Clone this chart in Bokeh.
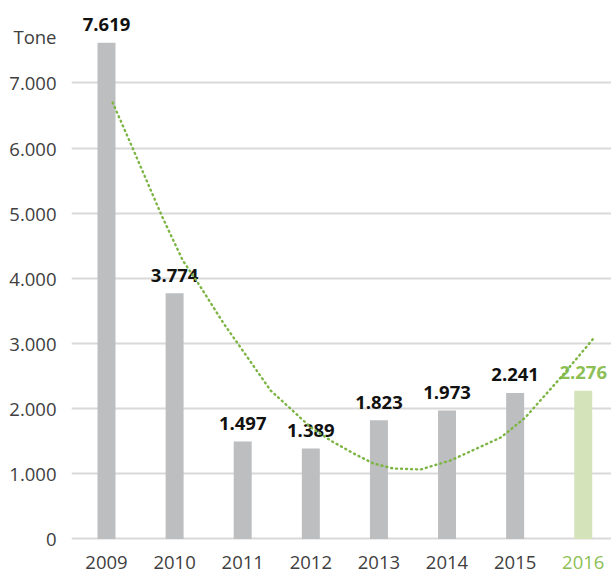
from bokeh.plotting import figure
from bokeh.models import ColumnDataSource, FixedTicker, Range1d
from bokeh.core.properties import value
from bokeh.embed import file_html
from bokeh.resources import INLINE

# ---- data ----
years = [2009, 2010, 2011, 2012, 2013, 2014, 2015, 2016]
tonnes = [7619, 3774, 1497, 1389, 1823, 1973, 2241, 2276]
value_labels = ["7.619", "3.774", "1.497", "1.389", "1.823", "1.973", "2.241", "2.276"]
year_labels = ["2009", "2010", "2011", "2012", "2013", "2014", "2015", "2016"]
highlight_year = 2016

# trend line
trend_x = [2009.09, 2009.38, 2009.81, 2010.12, 2010.34, 2010.72, 2011.00, 2011.41,
           2011.70, 2012.00, 2012.29, 2012.63, 2012.92, 2013.21, 2013.61, 2014.05,
           2014.79, 2015.15, 2015.67, 2016.15]
trend_y = [6700, 6009, 4965, 4275, 3937, 3308, 2893, 2279,
           2003, 1712, 1512, 1312, 1159, 1082, 1067, 1205,
           1558, 1865, 2479, 3077]

y_ticks = [0, 1000, 2000, 3000, 4000, 5000, 6000, 7000]
y_tick_labels = ["0", "1.000", "2.000", "3.000", "4.000", "5.000", "6.000", "7.000"]
unit_label = "Tone"
unit_pos = 7713

# ---- styles ----
GRAY_BAR = "#bdbec0"
GREEN_BAR = "#d5e3bb"
GREEN_TEXT = "#8dbf55"
TREND = "#7db544"
TEXT = "#404040"
FONT = "Open Sans"

bar_colors = [GREEN_BAR if y == highlight_year else GRAY_BAR for y in years]
lbl_colors = [GREEN_TEXT if y == highlight_year else "#111111" for y in years]
yr_colors = [GREEN_TEXT if y == highlight_year else TEXT for y in years]

src = ColumnDataSource(dict(x=years, v=tonnes, lbl=value_labels, yl=year_labels,
                            bc=bar_colors, lc=lbl_colors, yc=yr_colors))

p = figure(width=611, height=574, output_backend="svg", toolbar_location=None,
           x_range=Range1d(2008.486, 2016.415), y_range=Range1d(-545, 8143),
           min_border_left=71, min_border_right=0, min_border_top=8,
           min_border_bottom=0)
p.outline_line_color = None
p.background_fill_color = "white"
p.xaxis.visible = False
p.xgrid.visible = False

p.ygrid.ticker = FixedTicker(ticks=y_ticks)
p.ygrid.grid_line_color = "#d9d9d9"
p.ygrid.grid_line_width = 2

p.yaxis.ticker = FixedTicker(ticks=y_ticks + [unit_pos])
overrides = {t: l for t, l in zip(y_ticks, y_tick_labels)}
overrides[unit_pos] = unit_label
p.yaxis.major_label_overrides = overrides
p.yaxis.axis_line_color = None
p.yaxis.major_tick_line_color = None
p.yaxis.minor_tick_line_color = None
p.yaxis.major_label_standoff = 9
p.yaxis.major_label_text_font = FONT
p.yaxis.major_label_text_font_size = "18.5px"
p.yaxis.major_label_text_color = TEXT

p.vbar(x="x", top="v", bottom=0, width=0.264, source=src,
       fill_color="bc", line_color=None)

p.text(x="x", y="v", text="lbl", source=src, y_offset=-18,
       text_align="center", text_baseline="middle",
       text_font=value(FONT), text_font_style="bold",
       text_font_size="18.5px", text_color="lc")

p.text(x="x", y=0, text="yl", source=src, y_offset=23.5,
       text_align="center", text_baseline="middle",
       text_font=value(FONT), text_font_size="18.5px", text_color="yc")

p.line(trend_x, trend_y, line_color=TREND, line_width=2.4,
       line_dash="1 4", line_cap="round")

open("out.html", "w").write(file_html(p, INLINE))
